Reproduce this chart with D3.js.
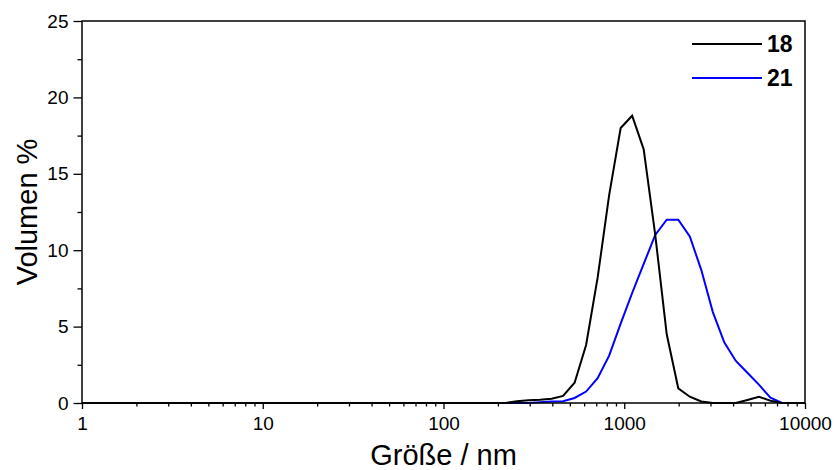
<!DOCTYPE html>
<html>
<head>
<meta charset="utf-8">
<script src="https://cdn.jsdelivr.net/npm/d3@7"></script>
<style>
  html, body { margin: 0; padding: 0; background: #fff; }
  svg { display: block; font-family: "Liberation Sans", Arial, sans-serif; }
</style>
</head>
<body>
<svg id="chart" width="836" height="470"></svg>
<script>
// Size bins (nm)
const sizes = [0.9647, 1.117, 1.294, 1.499, 1.736, 2.010, 2.328, 2.696, 3.122, 3.615,
  4.187, 4.849, 5.615, 6.503, 7.531, 8.721, 10.10, 11.70, 13.54, 15.69,
  18.17, 21.04, 24.36, 28.21, 32.67, 37.84, 43.82, 50.75, 58.77, 68.06,
  78.82, 91.28, 105.7, 122.4, 141.8, 164.2, 190.1, 220.2, 255.0, 295.3,
  342.0, 396.1, 458.7, 531.2, 615.1, 712.4, 825.0, 955.4, 1106, 1281,
  1484, 1718, 1990, 2305, 2669, 3091, 3580, 4145, 4801, 5560,
  6439, 7456, 8635, 10000];

// Volume % for sample 18
const vol18 = [0, 0, 0, 0, 0, 0, 0, 0, 0, 0,
  0, 0, 0, 0, 0, 0, 0, 0, 0, 0,
  0, 0, 0, 0, 0, 0, 0, 0, 0, 0,
  0, 0, 0, 0, 0, 0, 0, 0, 0.12, 0.18,
  0.22, 0.28, 0.46, 1.33, 3.8, 8.2, 13.6, 18.0, 18.8, 16.6,
  11.0, 4.5, 0.96, 0.41, 0.1, 0, 0, 0, 0.2, 0.41,
  0.15, 0, 0, 0];

// Volume % for sample 21
const vol21 = [0, 0, 0, 0, 0, 0, 0, 0, 0, 0,
  0, 0, 0, 0, 0, 0, 0, 0, 0, 0,
  0, 0, 0, 0, 0, 0, 0, 0, 0, 0,
  0, 0, 0, 0, 0, 0, 0, 0, 0, 0,
  0.05, 0.1, 0.12, 0.33, 0.75, 1.62, 3.1, 5.2, 7.2, 9.1,
  11.0, 12.0, 12.0, 10.9, 8.7, 5.95, 3.95, 2.75, 1.98, 1.2,
  0.35, 0, 0, 0];

const seriesNames = ["18", "21"];
const seriesColors = ["#000000", "#0000ff"];
const xTickValues = [1, 10, 100, 1000, 10000];
const yTickValues = [0, 5, 10, 15, 20, 25];
const xTitle = "Größe / nm";
const yTitle = "Volumen %";

const svg = d3.select("#chart");
const m = { left: 82, right: 805, top: 21, bottom: 403 };

const x = d3.scaleLog().domain([1, 10000]).range([m.left, m.right]);
const y = d3.scaleLinear().domain([0, 25]).range([m.bottom, m.top]);

svg.append("defs").append("clipPath").attr("id", "clip")
  .append("rect").attr("x", m.left).attr("y", m.top - 5)
  .attr("width", m.right - m.left).attr("height", m.bottom - m.top + 10);

// Minor tick values
const xMinor = [];
for (let d = 1; d < 10000; d *= 10) for (let k = 2; k <= 9; k++) xMinor.push(d * k);
const yMinor = d3.range(2.5, 25, 5);

// X axis
const xAxis = svg.append("g").attr("transform", `translate(0,${m.bottom})`);
xAxis.call(d3.axisBottom(x).tickValues(xMinor).tickSize(3.5).tickFormat(""));
xAxis.call(g => g.select(".domain").remove());
const xAxisMaj = svg.append("g").attr("transform", `translate(0,${m.bottom})`);
xAxisMaj.call(d3.axisBottom(x).tickValues(xTickValues).tickSize(6).tickPadding(8)
  .tickFormat(d3.format("d")));
xAxisMaj.select(".domain").remove();

// Y axis
const yAxis = svg.append("g").attr("transform", `translate(${m.left},0)`);
yAxis.call(d3.axisLeft(y).tickValues(yMinor).tickSize(4.5).tickFormat(""));
yAxis.select(".domain").remove();
const yAxisMaj = svg.append("g").attr("transform", `translate(${m.left},0)`);
yAxisMaj.call(d3.axisLeft(y).tickValues(yTickValues).tickSize(8.5).tickPadding(5)
  .tickFormat(d3.format("d")));
yAxisMaj.select(".domain").remove();

svg.selectAll(".tick line").attr("stroke", "#000").attr("stroke-width", 1.3);
svg.selectAll(".tick text").attr("font-size", 19).attr("fill", "#000")
  .attr("font-family", "Liberation Sans, Arial, sans-serif");

// Lines
const line = d3.line().x((d, i) => x(sizes[i])).y(d => y(d));
const plot = svg.append("g").attr("clip-path", "url(#clip)");
[vol21, vol18].forEach((vals, j) => {
  const idx = j === 0 ? 1 : 0;
  plot.append("path").datum(vals)
    .attr("d", line)
    .attr("fill", "none")
    .attr("stroke", seriesColors[idx])
    .attr("stroke-width", 2)
    .attr("stroke-linejoin", "miter");
});

// Frame
svg.append("rect")
  .attr("x", m.left).attr("y", m.top)
  .attr("width", m.right - m.left).attr("height", m.bottom - m.top)
  .attr("fill", "none").attr("stroke", "#000").attr("stroke-width", 1.5);

// Legend
const leg = svg.append("g");
seriesNames.forEach((name, i) => {
  const yy = 44 + i * 34;
  leg.append("line").attr("x1", 692).attr("x2", 762).attr("y1", yy).attr("y2", yy)
    .attr("stroke", seriesColors[i]).attr("stroke-width", 2);
  leg.append("text").attr("x", 767).attr("y", yy + 8)
    .attr("font-size", 23).attr("font-weight", "bold").attr("fill", "#000")
    .text(name);
});

// Axis titles
svg.append("text").attr("x", (m.left + m.right) / 2).attr("y", 465)
  .attr("text-anchor", "middle").attr("font-size", 29).attr("fill", "#000")
  .text(xTitle);
svg.append("text")
  .attr("transform", `translate(37,${(m.top + m.bottom) / 2}) rotate(-90)`)
  .attr("text-anchor", "middle").attr("font-size", 29).attr("fill", "#000")
  .text(yTitle);
</script>
</body>
</html>
